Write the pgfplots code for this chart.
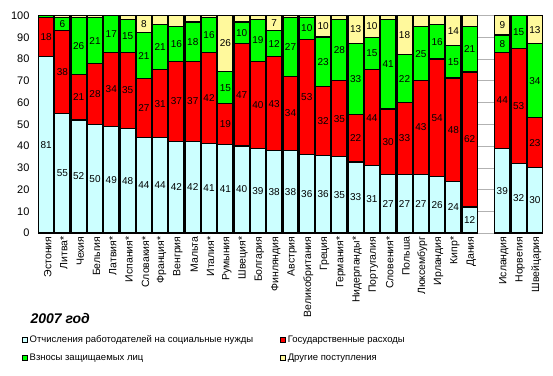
\documentclass[border=0pt]{standalone}
\usepackage{pgfplots}
\usepackage{pgfplotstable}
\pgfplotsset{compat=1.18}
\usepackage{fontspec}
\setmainfont{Liberation Sans}
\definecolor{cEmp}{HTML}{CCFFFF}
\definecolor{cGov}{HTML}{FF0000}
\definecolor{cIns}{HTML}{00FF00}
\definecolor{cOth}{HTML}{FFF99C}
\pgfplotstableread{
x a b c d
0 81 18 1 0
1 55 38 6 1
2 52 21 26 1
3 50 28 21 1
4 49 34 17 0
5 48 35 15 2
6 44 27 21 8
7 44 31 21 4
8 42 37 16 5
9 42 37 18 3
10 41 42 16 1
11 41 19 15 26
12 40 47 10 3
13 39 40 19 2
14 38 43 12 7
15 38 34 27 1
16 36 53 10 1
17 36 32 23 10
18 35 35 28 2
19 33 22 33 13
20 31 44 15 10
21 27 30 41 2
22 27 33 22 18
23 27 43 25 5
24 26 54 16 4
25 24 48 15 14
26 12 62 21 5
28 39 44 8 9
29 32 53 15 0
30 30 23 34 13
}\data
\pgfplotstablecreatecol[create col/expr={\thisrow{a}+\thisrow{b}+\thisrow{c}+\thisrow{d}}]{t}\data
\pgfplotsset{
  labelplot/.style={only marks, mark=none, point meta=explicit symbolic,
    nodes near coords={\ifnum\pgfplotspointmeta<6 \else\pgfplotspointmeta\fi},
    nodes near coords style={anchor=center, font=\fontsize{10}{11}\selectfont, inner sep=0pt}},
  barseg/.style={draw=black, line width=1.2pt},
}
\begin{document}
\begin{tikzpicture}
\useasboundingbox (0,0) rectangle (553pt,375pt);
\begin{axis}[
  at={(38pt,142pt)}, anchor=south west,
  scale only axis, width=505pt, height=217.5pt,
  ybar stacked, bar width=0.93,
  xmin=-0.5, xmax=30.5, ymin=0, ymax=100,
  ytick={0,10,20,30,40,50,60,70,80,90,100},
  xtick={0,1,2,3,4,5,6,7,8,9,10,11,12,13,14,15,16,17,18,19,20,21,22,23,24,25,26,28,29,30},
  xticklabels={Эстония,Литва*,Чехия,Бельгия,Латвия*,Испания*,Словакия*,Франция*,Венгрия,Мальта,Италия*,Румыния,Швеция*,Болгария,Финляндия,Австрия,Великобритания,Греция,Германия*,Нидерланды*,Португалия,Словения*,Польша,Люксембург,Ирландия,Кипр*,Дания,Исландия,Норвегия,Швейцария},
  xticklabel style={rotate=90, anchor=east, font=\fontsize{10.5}{12}\selectfont, yshift=-1.5pt},
  yticklabel style={font=\fontsize{11}{12}\selectfont, xshift=-5pt},
  /pgf/number format/assume math mode=true,
  ymajorgrids, grid style={black!30, line width=0.5pt},
  axis line style={draw=none}, tick style={draw=none},
  legend columns=2,
  legend cell align=left,
  legend style={at={(axis description cs:-0.0317,-0.46)}, anchor=north west, draw=none, fill=none,
    inner sep=0pt, font=\fontsize{9.5}{11}\selectfont, row sep=6pt,
    /tikz/every even column/.append style={column sep=25pt}},
  legend image code/.code={\draw[#1, line width=0.5pt, draw=black] (0pt,-2.5pt) rectangle (5pt,2.5pt);},
]
\addplot[barseg, fill=cEmp] table[x=x, y expr={100*\thisrow{a}/\thisrow{t}}] {\data};
\addlegendentry{Отчисления работодателей на социальные нужды}
\addplot[barseg, fill=cGov] table[x=x, y expr={100*\thisrow{b}/\thisrow{t}}] {\data};
\addlegendentry{Государственные расходы}
\addplot[barseg, fill=cIns] table[x=x, y expr={100*\thisrow{c}/\thisrow{t}}] {\data};
\addlegendentry{Взносы защищаемых лиц}
\addplot[barseg, fill=cOth] table[x=x, y expr={100*\thisrow{d}/\thisrow{t}}] {\data};
\addlegendentry{Другие поступления}
\end{axis}
\begin{axis}[
  at={(38pt,142pt)}, anchor=south west,
  scale only axis, width=505pt, height=217.5pt,
  xmin=-0.5, xmax=30.5, ymin=0, ymax=100,
  hide axis, clip=false,
]
\addplot[labelplot] table[x=x, y expr={50*\thisrow{a}/\thisrow{t}}, meta=a] {\data};
\addplot[labelplot] table[x=x, y expr={100*(\thisrow{a}+0.5*\thisrow{b})/\thisrow{t}}, meta=b] {\data};
\addplot[labelplot] table[x=x, y expr={100*(\thisrow{a}+\thisrow{b}+0.5*\thisrow{c})/\thisrow{t}}, meta=c] {\data};
\addplot[labelplot] table[x=x, y expr={100*(\thisrow{a}+\thisrow{b}+\thisrow{c}+0.5*\thisrow{d})/\thisrow{t}}, meta=d] {\data};
\end{axis}
\node[anchor=west, font=\bfseries\itshape\fontsize{14}{16}\selectfont] at (27pt,57pt) {2007 год};
\end{tikzpicture}
\end{document}
